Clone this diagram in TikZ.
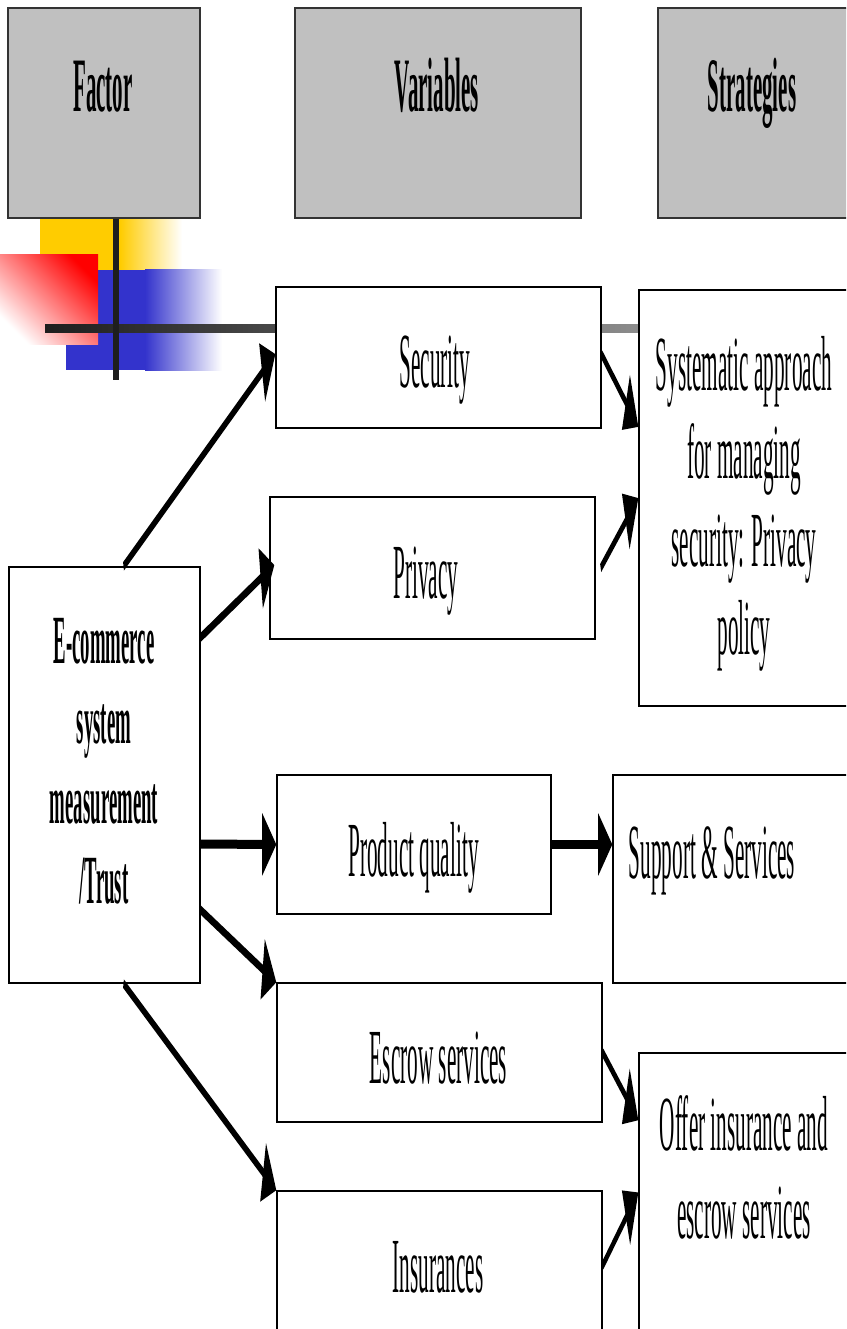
\documentclass[tikz,border=0pt]{standalone}
\usepackage{fontspec}
\setmainfont{Liberation Serif}
\usepackage{graphicx}
\usetikzlibrary{arrows.meta,calc}

% horizontal condensing applied to the lettering and the connectors
\newcommand\sqf{0.272}
\newcommand\squash[1]{\scalebox{0.272}[1]{\begin{tabular}[t]{@{}c@{}}#1\end{tabular}}}

\definecolor{hdrgray}{HTML}{C0C0C0}
\definecolor{decoyellow}{HTML}{FFCC00}
\definecolor{decoblue}{HTML}{3333CC}
\definecolor{decored}{HTML}{FF0000}
\definecolor{barA}{HTML}{1E1E1E}
\definecolor{barB}{HTML}{8C8C8C}

\begin{document}
\begin{tikzpicture}[x=1pt,y=-1pt,
  box/.style={draw=black, line width=1.3pt, fill=white, rectangle, inner sep=0pt},
  hdr/.style={box, fill=hdrgray, draw=black!80},
  lbl/.style={inner sep=0pt, anchor=base, font=\fontsize{78}{88}\selectfont},
  hlbl/.style={lbl, font=\bfseries\fontsize{77}{88}\selectfont},
  blbl/.style={lbl, font=\bfseries\fontsize{69}{80}\selectfont},
  arr/.style={line width=9pt, -{Triangle[length=52pt,width=60pt]}}]

\useasboundingbox (0,0) rectangle (846,1329);
\clip (0,0) rectangle (846,1329);

% ornament: coloured blocks and crossing bars
\fill[decoyellow] (40,218) rectangle (120,270);
\shade[left color=decoyellow, right color=white] (120,218) rectangle (182,270);
\fill[decoblue] (66,270) rectangle (145,370);
\shade[left color=decoblue, right color=white] (145,270) rectangle (222,370);
\shade[top color=decored, bottom color=white, shading angle=-45] (0,255) rectangle (98,344);
\shade[left color=barA, right color=barB] (45,324) rectangle (639,332);
\fill[barA] (113,217) rectangle (119,380);

% column headers
\node[hdr, minimum width=192pt, minimum height=210pt] (fac) at (104,113) {};
\node[hdr, minimum width=286pt, minimum height=210pt] (var) at (438,113) {};
\node[hdr, minimum width=190pt, minimum height=210pt] (str) at (753,113) {};

% boxes
\node[box, minimum width=191pt, minimum height=416pt] (eco)  at (104.5,775) {};
\node[box, minimum width=325pt, minimum height=141pt] (sec)  at (438.5,357.5) {};
\node[box, minimum width=325pt, minimum height=142pt] (priv) at (432.5,568) {};
\node[box, minimum width=274pt, minimum height=139pt] (prod) at (414,844.5) {};
\node[box, minimum width=325pt, minimum height=139pt] (esc)  at (439.5,1052.5) {};
\node[box, minimum width=325pt, minimum height=149pt] (ins)  at (439.5,1265.5) {};
\node[box, minimum width=210pt, minimum height=416pt] (sys)  at (744,498) {};
\node[box, minimum width=236pt, minimum height=208pt] (sup)  at (731,879) {};
\node[box, minimum width=210pt, minimum height=287pt] (off)  at (744,1196.5) {};

% lettering
\node[hlbl] (fac-t) at (103,112) {\squash{Factor}};
\node[hlbl] (var-t) at (437,112) {\squash{Variables}};
\node[hlbl] (str-t) at (752,112) {\squash{Strategies}};
\node[blbl] (eco-t) at (104,663) {\squash{E-commerce\\system\\measurement\\/Trust}};
\node[lbl] (sec-t)  at (435,387)  {\squash{Security}};
\node[lbl] (priv-t) at (426,598)  {\squash{Privacy}};
\node[lbl] (prod-t) at (413.5,876) {\squash{Product quality}};
\node[lbl] (esc-t)  at (438.5,1083) {\squash{Escrow services}};
\node[lbl] (ins-t)  at (438,1292) {\squash{Insurances}};
\node[lbl] (sys-t)  at (744,390)  {\squash{Systematic approach\\for managing\\security: Privacy\\policy}};
\node[lbl] (sup-t)  at (712,878)  {\squash{Support \& Services}};
\node[lbl] (off-t)  at (744,1150) {\squash{Offer insurance and\\escrow services}};

% connectors, drawn wide and then condensed with the rest
\begin{scope}[transform canvas={xscale=\sqf}]
\draw[arr] let \p1=([xshift=19pt]eco.north), \p2=([yshift=3.5pt]sec.west) in (\x1/\sqf,\y1) -- (\x2/\sqf,\y2);
\draw[arr] let \p1=([yshift=-71pt]eco.north east), \p2=([xshift=5pt,yshift=3pt]priv.west) in (\x1/\sqf,\y1) -- (\x2/\sqf,\y2);
\draw[arr] let \p1=([yshift=-69pt]eco.east), \p2=(prod.west) in (\x1/\sqf,\y1) -- (\x2/\sqf,\y2);
\draw[arr] let \p1=([yshift=-135pt]eco.east), \p2=(esc.north west) in (\x1/\sqf,\y1) -- (\x2/\sqf,\y2);
\draw[arr] let \p1=([xshift=19pt]eco.south), \p2=(ins.north west) in (\x1/\sqf,\y1) -- (\x2/\sqf,\y2);
\draw[arr] let \p1=([yshift=3pt]sec.east), \p2=([yshift=71pt]sys.west) in (\x1/\sqf,\y1) -- (\x2/\sqf,\y2);
\draw[arr] let \p1=([xshift=5pt]priv.east), \p2=(sys.west) in (\x1/\sqf,\y1) -- (\x2/\sqf,\y2);
\draw[arr] let \p1=(prod.east), \p2=([yshift=34.5pt]sup.west) in (\x1/\sqf,\y1) -- (\x2/\sqf,\y2);
\draw[arr] let \p1=(esc.east), \p2=([yshift=-68pt]off.north west) in (\x1/\sqf,\y1) -- (\x2/\sqf,\y2);
\draw[arr] let \p1=(ins.east), \p2=([yshift=-140pt]off.north west) in (\x1/\sqf,\y1) -- (\x2/\sqf,\y2);
\end{scope}
\end{tikzpicture}
\end{document}
